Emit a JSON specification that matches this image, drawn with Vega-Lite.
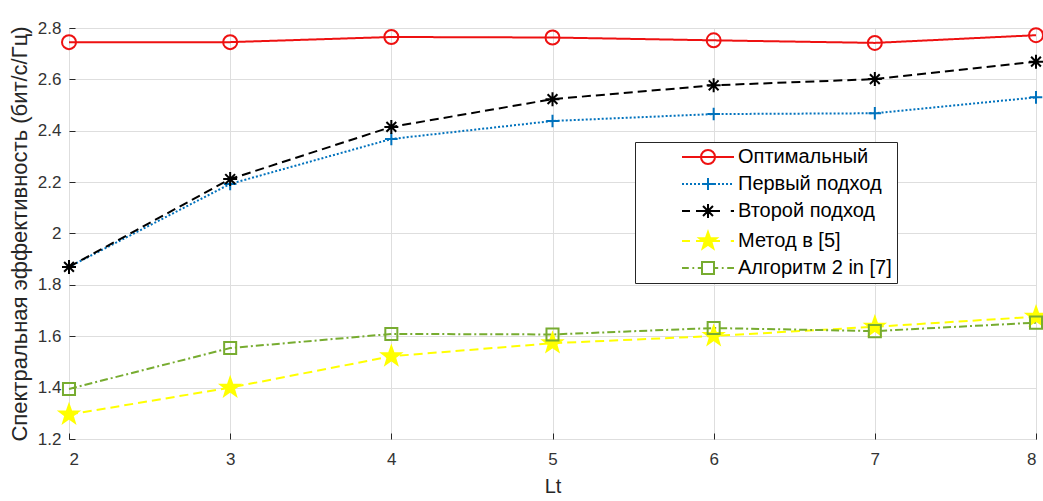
{
  "$schema": "https://vega.github.io/schema/vega-lite/v6.json",
  "width": 967,
  "height": 411,
  "autosize": {"type": "none"},
  "padding": {"left": 69, "top": 28, "right": 7, "bottom": 62},
  "background": "white",
  "config": {
    "view": {"stroke": "#262626", "strokeWidth": 1},
    "font": "Liberation Sans",
    "axis": {
      "labelFont": "Liberation Sans",
      "titleFont": "Liberation Sans",
      "labelColor": "#333333",
      "titleColor": "#262626",
      "titleFontWeight": "normal",
      "gridColor": "#dedede",
      "gridWidth": 1,
      "domain": false,
      "tickColor": "#262626",
      "tickSize": -6
    },
    "legend": {
      "orient": "none", "legendX": 566, "legendY": 114, "title": null,
      "symbolSize": 144, "symbolStrokeWidth": 2, "symbolOffset": 58, "labelOffset": 20,
      "labelFontSize": 20, "labelFont": "Liberation Sans", "labelColor": "#000000",
      "padding": 5, "rowPadding": 5, "strokeColor": "#262626", "fillColor": "white", "labelLimit": 400
    }
  },
  "data": {
    "values": [
      {"series": "Оптимальный", "Lt": 2, "value": 2.745},
      {"series": "Оптимальный", "Lt": 3, "value": 2.745},
      {"series": "Оптимальный", "Lt": 4, "value": 2.765},
      {"series": "Оптимальный", "Lt": 5, "value": 2.763},
      {"series": "Оптимальный", "Lt": 6, "value": 2.752},
      {"series": "Оптимальный", "Lt": 7, "value": 2.742},
      {"series": "Оптимальный", "Lt": 8, "value": 2.772},
      {"series": "Первый подход", "Lt": 2, "value": 1.87},
      {"series": "Первый подход", "Lt": 3, "value": 2.193},
      {"series": "Первый подход", "Lt": 4, "value": 2.368},
      {"series": "Первый подход", "Lt": 5, "value": 2.438},
      {"series": "Первый подход", "Lt": 6, "value": 2.465},
      {"series": "Первый подход", "Lt": 7, "value": 2.468},
      {"series": "Первый подход", "Lt": 8, "value": 2.53},
      {"series": "Второй подход", "Lt": 2, "value": 1.87},
      {"series": "Второй подход", "Lt": 3, "value": 2.212},
      {"series": "Второй подход", "Lt": 4, "value": 2.415},
      {"series": "Второй подход", "Lt": 5, "value": 2.523},
      {"series": "Второй подход", "Lt": 6, "value": 2.577},
      {"series": "Второй подход", "Lt": 7, "value": 2.601},
      {"series": "Второй подход", "Lt": 8, "value": 2.669},
      {"series": "Метод в [5]", "Lt": 2, "value": 1.295},
      {"series": "Метод в [5]", "Lt": 3, "value": 1.4},
      {"series": "Метод в [5]", "Lt": 4, "value": 1.522},
      {"series": "Метод в [5]", "Lt": 5, "value": 1.573},
      {"series": "Метод в [5]", "Lt": 6, "value": 1.601},
      {"series": "Метод в [5]", "Lt": 7, "value": 1.637},
      {"series": "Метод в [5]", "Lt": 8, "value": 1.676},
      {"series": "Алгоритм 2 in [7]", "Lt": 2, "value": 1.395},
      {"series": "Алгоритм 2 in [7]", "Lt": 3, "value": 1.554},
      {"series": "Алгоритм 2 in [7]", "Lt": 4, "value": 1.609},
      {"series": "Алгоритм 2 in [7]", "Lt": 5, "value": 1.607},
      {"series": "Алгоритм 2 in [7]", "Lt": 6, "value": 1.632},
      {"series": "Алгоритм 2 in [7]", "Lt": 7, "value": 1.62},
      {"series": "Алгоритм 2 in [7]", "Lt": 8, "value": 1.653}
    ]
  },
  "encoding": {
    "x": {
      "field": "Lt", "type": "quantitative",
      "scale": {"domain": [2, 8], "nice": false, "zero": false},
      "axis": {"title": "Lt", "values": [2, 3, 4, 5, 6, 7, 8], "format": "d", "labelFontSize": 17, "titleFontSize": 20, "labelPadding": 18, "titlePadding": 9, "grid": true}
    },
    "y": {
      "field": "value", "type": "quantitative",
      "scale": {"domain": [1.2, 2.8], "nice": false, "zero": false},
      "axis": {"title": "Спектральная эффективность (бит/с/Гц)", "values": [1.2, 1.4, 1.6, 1.8, 2, 2.2, 2.4, 2.6, 2.8], "format": "~g", "labelFontSize": 17, "titleFontSize": 22, "labelPadding": 14, "titlePadding": 6, "grid": true}
    }
  },
  "layer": [
    {
      "mark": {"type": "line", "strokeWidth": 2},
      "encoding": {
        "color": {"field": "series", "type": "nominal", "legend": null,
          "scale": {"domain": ["Оптимальный", "Первый подход", "Второй подход", "Метод в [5]", "Алгоритм 2 in [7]"],
                    "range": ["#ee1111", "#0072bd", "#000000", "#ffff00", "#77ac30"]}},
        "strokeDash": {"field": "series", "type": "nominal", "legend": null,
          "scale": {"domain": ["Оптимальный", "Первый подход", "Второй подход", "Метод в [5]", "Алгоритм 2 in [7]"],
                    "range": [[1, 0], [2, 2], [9, 5], [9, 5], [8, 3, 2, 3]]}}
      }
    },
    {
      "mark": {"type": "point", "filled": false, "strokeWidth": 2, "size": 196, "opacity": 1},
      "encoding": {
        "color": {"field": "series", "type": "nominal", "legend": null,
          "scale": {"domain": ["Оптимальный", "Первый подход", "Второй подход", "Метод в [5]", "Алгоритм 2 in [7]"],
                    "range": ["#ee1111", "#0072bd", "#000000", "#ffff00", "#77ac30"]}},
        "fill": {"field": "series", "type": "nominal", "legend": null,
          "scale": {"domain": ["Оптимальный", "Первый подход", "Второй подход", "Метод в [5]", "Алгоритм 2 in [7]"],
                    "range": ["transparent", "transparent", "transparent", "#ffff00", "transparent"]}},
        "shape": {"field": "series", "type": "nominal", "legend": null,
          "scale": {"domain": ["Оптимальный", "Первый подход", "Второй подход", "Метод в [5]", "Алгоритм 2 in [7]"],
                    "range": ["circle",
                              "M-0.9,0H0.9M0,-0.9V0.9",
                              "M-1,0H1M0,-1V1M-0.7,-0.7L0.7,0.7M-0.7,0.7L0.7,-0.7",
                              "M0,-1.4L0.329,-0.453L1.332,-0.433L0.533,0.173L0.823,1.133L0,0.56L-0.823,1.133L-0.533,0.173L-1.332,-0.433L-0.329,-0.453Z",
                              "M-0.86,-0.86H0.86V0.86H-0.86Z"]}}
      }
    },
    {
      "transform": [{"filter": "datum.Lt < 0"}],
      "mark": {"type": "point", "filled": false, "strokeWidth": 2, "opacity": 1},
      "encoding": {
        "color": {"field": "series", "type": "nominal",
          "scale": {"domain": ["Оптимальный", "Первый подход", "Второй подход", "Метод в [5]", "Алгоритм 2 in [7]"],
                    "range": ["#ee1111", "#0072bd", "#000000", "#ffff00", "#77ac30"]}},
        "fill": {"field": "series", "type": "nominal",
          "scale": {"domain": ["Оптимальный", "Первый подход", "Второй подход", "Метод в [5]", "Алгоритм 2 in [7]"],
                    "range": ["transparent", "transparent", "transparent", "#ffff00", "transparent"]}},
        "shape": {"field": "series", "type": "nominal",
          "scale": {"domain": ["Оптимальный", "Первый подход", "Второй подход", "Метод в [5]", "Алгоритм 2 in [7]"],
                    "range": [
                      "M-4.33,0H4.33M1.17,0A1.17,1.17 0 1 1 -1.17,0A1.17,1.17 0 1 1 1.17,0",
                      "M-4.33,0h0.33M-3.67,0h0.33M-3,0h0.33M-2.33,0h0.33M-1.67,0h0.33M-1,0h0.33M-0.33,0h0.33M0.33,0h0.33M1,0h0.33M1.67,0h0.33M2.33,0h0.33M3,0h0.33M3.67,0h0.33M-1,0H1M0,-1V1",
                      "M-4.33,0H-3M-2,0H-0.7M0.7,0H2M3.8,0H4.33M-1.17,0H1.17M0,-1.17V1.17M-0.83,-0.83L0.83,0.83M-0.83,0.83L0.83,-0.83",
                      "M-4.33,0H-3M-2,0H-0.9M0.9,0H2M3.8,0H4.33M0,-1.5L0.353,-0.485L1.427,-0.464L0.571,0.185L0.882,1.214L0,0.6L-0.882,1.214L-0.571,0.185L-1.427,-0.464L-0.353,-0.485Z",
                      "M-4.33,0H-3.2M-2.6,0H-2.3M-1.7,0H-1M1,0H1.7M2.3,0H2.6M3.2,0H4.33M-1,-1H1V1H-1Z"
                    ]}}
      }
    }
  ],
  "resolve": {"scale": {"shape": "independent", "color": "independent", "fill": "independent"}}
}
